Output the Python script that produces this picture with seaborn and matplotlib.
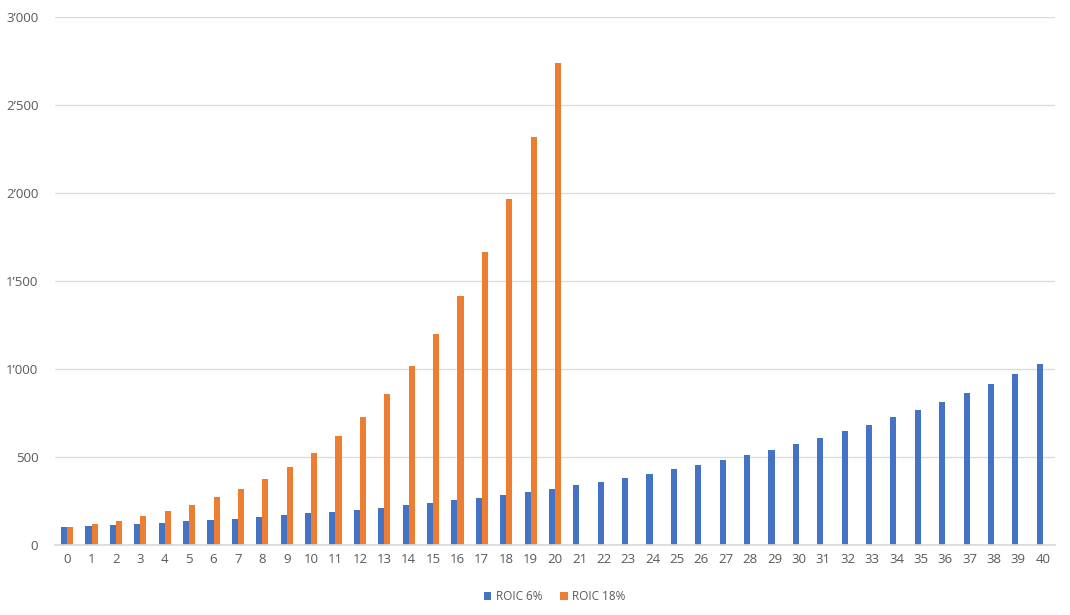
import matplotlib
matplotlib.use("Agg")
import matplotlib.pyplot as plt
from matplotlib.ticker import FuncFormatter, MultipleLocator
import pandas as pd
import seaborn as sns

years = list(range(41))
roic_6 = [100, 106, 112, 119, 126, 134, 142, 150, 159, 169, 179, 190, 201, 213,
          226, 240, 254, 269, 285, 303, 321, 340, 360, 382, 405, 429, 455, 482,
          511, 542, 574, 609, 645, 684, 725, 769, 815, 864, 915, 970, 1029]
roic_18 = [100, 118, 139, 164, 194, 229, 270, 319, 376, 444, 523, 618, 729, 860,
           1015, 1197, 1413, 1667, 1967, 2321, 2739]
series_names = ["ROIC 6%", "ROIC 18%"]


def build_frame():
    """Long format table for seaborn: one row per bar."""
    rows = []
    for yr, v in zip(years, roic_6):
        rows.append({"year": yr, "series": series_names[0], "value": v})
    for yr in years:
        v = roic_18[yr] if yr < len(roic_18) else float("nan")
        rows.append({"year": yr, "series": series_names[1], "value": v})
    return pd.DataFrame(rows)


def main():
    df = build_frame()
    sns.set_theme(style="white")
    plt.rcParams["font.family"] = ["Open Sans", "DejaVu Sans"]

    fig = plt.figure(figsize=(10.7, 6.15), dpi=100)
    ax = fig.add_axes([55 / 1070, 70 / 615, 1000 / 1070, 528 / 615])

    sns.barplot(data=df, x="year", y="value", hue="series",
                palette=["#4472C4", "#ED7D31"], width=0.5, ax=ax,
                saturation=1, linewidth=0, legend=True)

    ax.set_ylim(0, 3000)
    ax.yaxis.set_major_locator(MultipleLocator(500))
    ax.yaxis.set_major_formatter(
        FuncFormatter(lambda v, p: f"{int(v):,}".replace(",", "\u2019")))
    ax.grid(axis="y", color="#d9d9d9", linewidth=0.9)
    ax.set_axisbelow(True)
    for s in ["top", "right", "left"]:
        ax.spines[s].set_visible(False)
    ax.spines["bottom"].set_color("#d9d9d9")
    ax.tick_params(axis="both", colors="#595959", labelsize=9.5, length=0)
    ax.tick_params(axis="y", pad=12)
    ax.tick_params(axis="x", pad=6)
    ax.set_xlim(-0.5, 40.5)
    ax.set_xlabel("")
    ax.set_ylabel("")

    handles, labels = ax.get_legend_handles_labels()
    ax.legend(handles, labels, loc="upper center", bbox_to_anchor=(0.5, -0.065),
              ncol=2, frameon=False, fontsize=8.5, handlelength=0.6,
              handleheight=0.6, handletextpad=0.4, columnspacing=1.5,
              labelcolor="#595959")

    fig.savefig("out.png", dpi=100)
    plt.close(fig)


if __name__ == "__main__":
    main()
